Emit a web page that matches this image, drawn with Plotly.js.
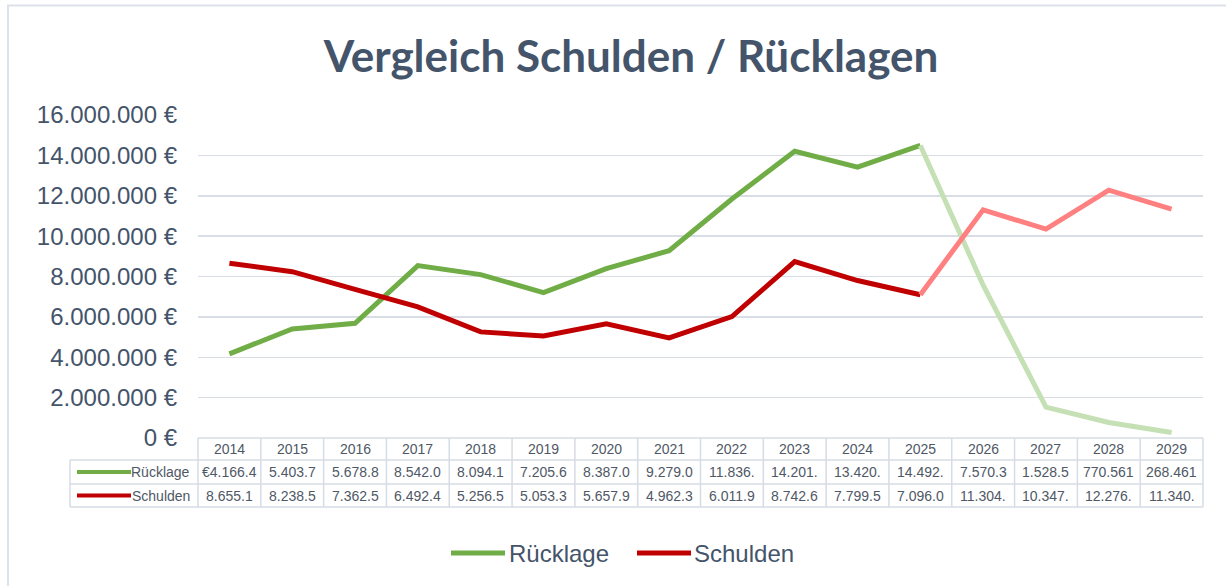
<!DOCTYPE html>
<html>
<head>
<meta charset="utf-8">
<script src="https://cdn.plot.ly/plotly-3.0.1.min.js"></script>
<style>html,body{margin:0;padding:0;background:#fff;}#chart{width:1226px;height:586px;}</style>
</head>
<body>
<div id="chart"></div>
<script>
// ---- data ----
const years = ["2014","2015","2016","2017","2018","2019","2020","2021","2022","2023","2024","2025","2026","2027","2028","2029"];
const ruecklage = [4166400, 5403700, 5678800, 8542000, 8094100, 7205600, 8387000, 9279000, 11836000, 14201000, 13420000, 14492000, 7570300, 1528500, 770561, 268461];
const schulden  = [8655100, 8238500, 7362500, 6492400, 5256500, 5053300, 5657900, 4962300, 6011900, 8742600, 7799500, 7096000, 11304000, 10347000, 12276000, 11340000];
const ruecklageLabels = ["€4.166.4","5.403.7","5.678.8","8.542.0","8.094.1","7.205.6","8.387.0","9.279.0","11.836.","14.201.","13.420.","14.492.","7.570.3","1.528.5","770.561","268.461"];
const schuldenLabels  = ["8.655.1","8.238.5","7.362.5","6.492.4","5.256.5","5.053.3","5.657.9","4.962.3","6.011.9","8.742.6","7.799.5","7.096.0","11.304.","10.347.","12.276.","11.340."];
const seriesNames = ["Rücklage","Schulden"];
const titleText = "Vergleich Schulden / Rücklagen";
const splitIndex = 11; // 2025: forecast starts after this year

// ---- styling ----
const W = 1226, H = 586;
const PL = 198, PR = 1203, PT = 115, PB = 438;
const px2x = px => (px - PL) / (PR - PL);
const py2y = py => (PB - py) / (PB - PT);
const green = "#70AD47", greenLight = "#C5E0B4";
const red = "#C00000", redLight = "#FF8080";
const gridCol = "#D9DEE6", tableCol = "#D6DCE4";
const textCol = "#44546A", tableText = "#4F5866";
const LW = 5;

function seg(y, from, to) {
  return { x: years.slice(from, to + 1), y: y.slice(from, to + 1) };
}
const traces = [
  Object.assign(seg(ruecklage, 0, splitIndex), {type:"scatter", mode:"lines", line:{color:green, width:LW}, showlegend:false, hoverinfo:"skip"}),
  Object.assign(seg(ruecklage, splitIndex, years.length-1), {type:"scatter", mode:"lines", line:{color:greenLight, width:LW}, showlegend:false, hoverinfo:"skip"}),
  Object.assign(seg(schulden, 0, splitIndex), {type:"scatter", mode:"lines", line:{color:red, width:LW}, showlegend:false, hoverinfo:"skip"}),
  Object.assign(seg(schulden, splitIndex, years.length-1), {type:"scatter", mode:"lines", line:{color:redLight, width:LW}, showlegend:false, hoverinfo:"skip"})
];

const shapes = [];
const annotations = [];
const n = years.length;
const colCenter = i => (i + 0.5) / n; // category centre on axis range [-0.5, n-0.5]
// table horizontal lines
const yHead = py2y(438), y1 = py2y(460), y2 = py2y(484), y3 = py2y(507);
const xLeft = px2x(70);
shapes.push({type:"line", xref:"paper", yref:"paper", x0:0, x1:1, y0:yHead, y1:yHead, line:{color:tableCol, width:1.5}});
[y1, y2, y3].forEach(yy => shapes.push({type:"line", xref:"paper", yref:"paper", x0:xLeft, x1:1, y0:yy, y1:yy, line:{color:tableCol, width:1.5}}));
// table vertical lines
for (let i = 0; i <= n; i++) {
  shapes.push({type:"line", xref:"paper", yref:"paper", x0:i/n, x1:i/n, y0:yHead, y1:y3, line:{color:tableCol, width:1.5}});
}
shapes.push({type:"line", xref:"paper", yref:"paper", x0:xLeft, x1:xLeft, y0:y1, y1:y3, line:{color:tableCol, width:1.5}});
// row key lines
shapes.push({type:"line", xref:"paper", yref:"paper", x0:px2x(77), x1:px2x(131), y0:py2y(472), y1:py2y(472), line:{color:green, width:4}});
shapes.push({type:"line", xref:"paper", yref:"paper", x0:px2x(77), x1:px2x(131), y0:py2y(495.5), y1:py2y(495.5), line:{color:red, width:4}});
// legend key lines
shapes.push({type:"line", xref:"paper", yref:"paper", x0:px2x(451), x1:px2x(505), y0:py2y(553), y1:py2y(553), line:{color:green, width:5}});
shapes.push({type:"line", xref:"paper", yref:"paper", x0:px2x(637), x1:px2x(691), y0:py2y(553), y1:py2y(553), line:{color:red, width:5}});
// chart frame
shapes.push({type:"rect", xref:"paper", yref:"paper", x0:px2x(8), x1:px2x(1260), y0:py2y(5.5), y1:py2y(640), line:{color:"#DDE2EA", width:2}, fillcolor:"rgba(0,0,0,0)", layer:"below"});

const tfont = {family:"Liberation Sans, Arial, sans-serif", size:14, color:tableText};
years.forEach((yr, i) => {
  annotations.push({xref:"paper", yref:"paper", x:colCenter(i), y:py2y(449), text:yr, showarrow:false, font:tfont, xanchor:"center", yanchor:"middle"});
  annotations.push({xref:"paper", yref:"paper", x:colCenter(i), y:py2y(472), text:ruecklageLabels[i], showarrow:false, font:tfont, xanchor:"center", yanchor:"middle"});
  annotations.push({xref:"paper", yref:"paper", x:colCenter(i), y:py2y(495.5), text:schuldenLabels[i], showarrow:false, font:tfont, xanchor:"center", yanchor:"middle"});
});
annotations.push({xref:"paper", yref:"paper", x:px2x(192), y:py2y(472), text:seriesNames[0], showarrow:false, font:tfont, xanchor:"right", yanchor:"middle"});
annotations.push({xref:"paper", yref:"paper", x:px2x(192), y:py2y(495.5), text:seriesNames[1], showarrow:false, font:tfont, xanchor:"right", yanchor:"middle"});
const lfont = {family:"Liberation Sans, Arial, sans-serif", size:24, color:textCol};
annotations.push({xref:"paper", yref:"paper", x:px2x(507), y:py2y(553), text:seriesNames[0], showarrow:false, font:lfont, xanchor:"left", yanchor:"middle"});
annotations.push({xref:"paper", yref:"paper", x:px2x(692), y:py2y(553), text:seriesNames[1], showarrow:false, font:lfont, xanchor:"left", yanchor:"middle"});

const layout = {
  width: W, height: H,
  margin: {l: PL, r: W - PR, t: PT, b: H - PB, pad: 0},
  paper_bgcolor: "#ffffff", plot_bgcolor: "#ffffff",
  separators: ",.",
  showlegend: false,
  title: {text: "<b>" + titleText + "</b>", xref:"container", yref:"container", x: 631/W, y: 1 - 57/H, xanchor:"center", yanchor:"middle",
          font: {family: "Lato, 'Open Sans', sans-serif", size: 44, color: textCol}},
  xaxis: {type:"category", range:[-0.5, n - 0.5], showticklabels:false, showgrid:false, zeroline:false, showline:false, ticks:"", fixedrange:true},
  yaxis: {range:[0, 16000000], dtick:2000000, tick0:0, tickformat:",d", ticksuffix:" €", showgrid:true, gridcolor:gridCol, gridwidth:1.5,
          zeroline:false, showline:false, ticks:"", ticklabelstandoff:20,
          tickfont:{family:"Liberation Sans, Arial, sans-serif", size:24, color:textCol}, fixedrange:true},
  shapes: shapes,
  annotations: annotations
};

Plotly.newPlot("chart", traces, layout, {displayModeBar:false, staticPlot:true});
</script>
</body>
</html>
